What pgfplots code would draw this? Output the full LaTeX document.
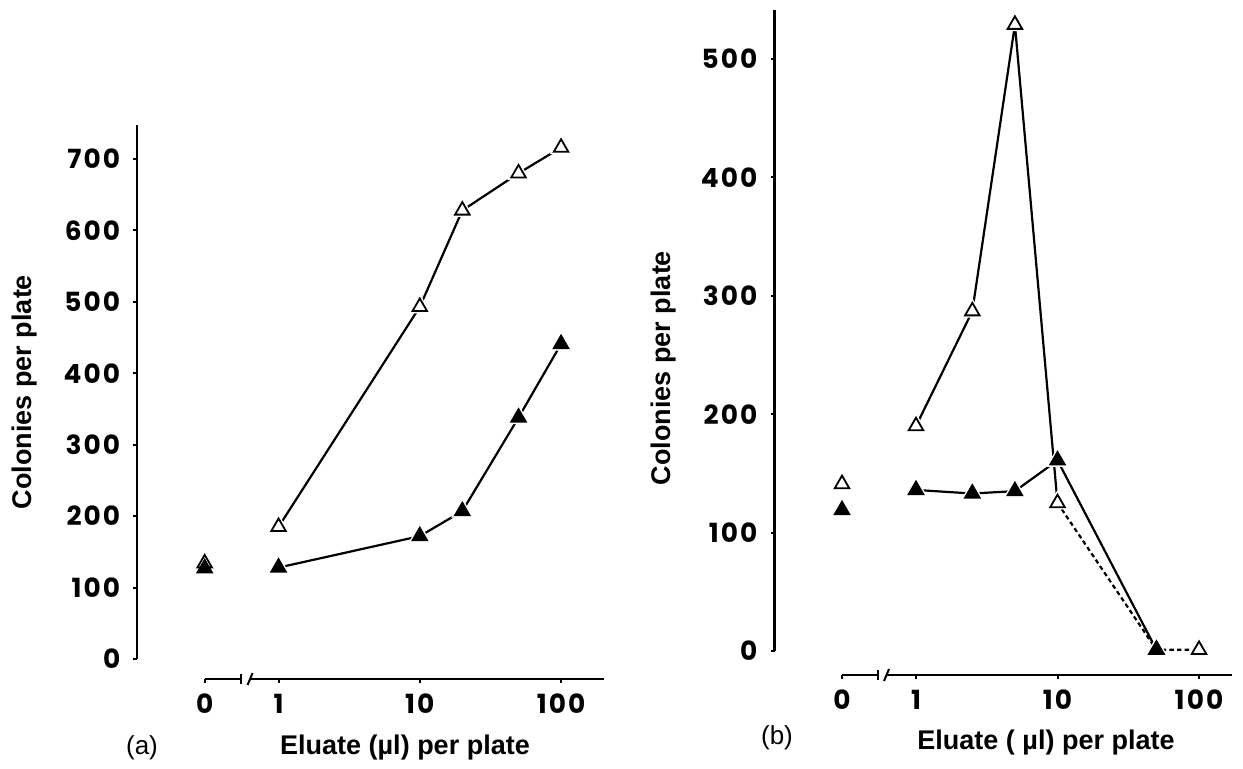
\documentclass[border=0pt]{standalone}
\usepackage{pgfplots}
\pgfplotsset{compat=1.18}
\usepackage{fontspec}
\setmainfont{Liberation Sans}
\newfontfamily\tickfont[LetterSpace=8]{Poppins}
\newcommand\ticklbl{\tickfont\bfseries\fontsize{13.2pt}{14pt}\selectfont}
\newcommand\lbl{\bfseries\fontsize{13.5pt}{15pt}\selectfont}

% x = 0 is drawn at 0.3 on the log axis, left of the break
\pgfplotstableread{
x y
0.3 134
1 185
10 493
20 628
50 680
100 716
}\lhollow
\pgfplotstableread{
x y
0.3 127
1 128
10 172
20 207
50 338
100 441
}\lfilled
\pgfplotstableread{
x y
0.3 141
1 190
2.5 287
5 529
10 125
50 1
100 1
}\rhollow
\pgfplotstableread{
x y
0.3 119
1 136
2.5 133
5 135
10 161
50 1
}\rfilled

\pgfplotsset{
  myaxis/.style={
    scale only axis, clip=false,
    axis line style={draw=none},
    xtick={1,10,100}, xticklabels={1,10,100}, xminorticks=false,
    extra x ticks={0.3}, extra x tick labels={0},
    tick align=outside, xtick pos=bottom, ytick pos=left,
    major tick length=2pt,
    tick style={line width=1pt, black},
    ticklabel style={font=\ticklbl},
    /pgf/number format/assume math mode=true,
    yticklabel style={xshift=-3pt},
    xticklabel style={yshift=-2pt},
  },
  dataline/.style={no marks, black, line width=1.1pt},
  halomk/.style={only marks, mark=triangle*, mark size=6pt,
    mark options={fill=white, draw=white, line width=0.5pt}},
  hollowmk/.style={only marks, mark=triangle*, mark size=4.2pt,
    mark options={fill=white, draw=black, line width=0.9pt}},
  filledmk/.style={only marks, mark=triangle*, mark size=4.2pt,
    mark options={fill=black, draw=black, line width=0.9pt}},
}

\begin{document}
\begin{tikzpicture}
\useasboundingbox (0,0) rectangle (621.5pt,384pt);

% (a)
\begin{axis}[myaxis, xmode=log, anchor=south west, at={(68.65pt,44.5pt)},
  width=233.35pt, height=277pt,
  xmin=0.1, xmax=201.4, ymin=-28, ymax=747.6, ytick={0,100,...,700}]
\addplot[dataline, skip coords between index={0}{1}] table {\lhollow};
\addplot[dataline, skip coords between index={0}{1}] table {\lfilled};
\addplot[halomk] table {\lhollow};
\addplot[halomk] table {\lfilled};
\addplot[hollowmk] table {\lhollow};
\addplot[filledmk] table {\lfilled};
\draw[line width=1.2pt] (axis cs:0.1,0) -- (axis cs:0.1,747.6);
\draw[line width=1.2pt] (axis cs:0.3,-28) -- (axis cs:0.539,-28);
\draw[line width=1.2pt] (axis cs:0.634,-28) -- (axis cs:201.4,-28);
\draw[line width=1pt] ([yshift=-2.5pt]axis cs:0.539,-28) -- ([yshift=2.5pt]axis cs:0.539,-28);
\draw[line width=1pt] ([xshift=-1.5pt,yshift=-3pt]axis cs:0.634,-28) -- ([xshift=1pt,yshift=3pt]axis cs:0.634,-28);
\end{axis}

% (b)
\begin{axis}[myaxis, xmode=log, anchor=south west, at={(387.25pt,46.5pt)},
  width=228.75pt, height=332.5pt,
  xmin=0.1, xmax=171, ymin=-20.3, ymax=541.4, ytick={0,100,...,500}]
\addplot[dataline, skip coords between index={0}{1}, skip coords between index={5}{7}] table {\rhollow};
\addplot[dataline, dash pattern=on 2.2pt off 1.6pt, skip coords between index={0}{4}] table {\rhollow};
\addplot[dataline, skip coords between index={0}{1}] table {\rfilled};
\addplot[halomk] table {\rhollow};
\addplot[halomk] table {\rfilled};
\addplot[hollowmk] table {\rhollow};
\addplot[filledmk] table {\rfilled};
\draw[line width=1.2pt] (axis cs:0.1,0) -- (axis cs:0.1,541.4);
\draw[line width=1.2pt] (axis cs:0.3,-20.3) -- (axis cs:0.539,-20.3);
\draw[line width=1.2pt] (axis cs:0.624,-20.3) -- (axis cs:171,-20.3);
\draw[line width=1pt] ([yshift=-2.5pt]axis cs:0.539,-20.3) -- ([yshift=2.5pt]axis cs:0.539,-20.3);
\draw[line width=1pt] ([xshift=-1.5pt,yshift=-3pt]axis cs:0.624,-20.3) -- ([xshift=1pt,yshift=3pt]axis cs:0.624,-20.3);
\end{axis}

\node[font=\lbl] at (202.5pt,10pt) {Eluate (µl) per plate};
\node[font=\fontsize{13pt}{15pt}\selectfont] at (71pt,10pt) {(a)};
\node[font=\lbl, rotate=90] at (12.25pt,188pt) {Colonies per plate};

\node[font=\lbl] at (523pt,12.5pt) {Eluate ( µl) per plate};
\node[font=\fontsize{13pt}{15pt}\selectfont] at (388.5pt,15pt) {(b)};
\node[font=\lbl, rotate=90] at (331.7pt,200pt) {Colonies per plate};
\end{tikzpicture}
\end{document}
